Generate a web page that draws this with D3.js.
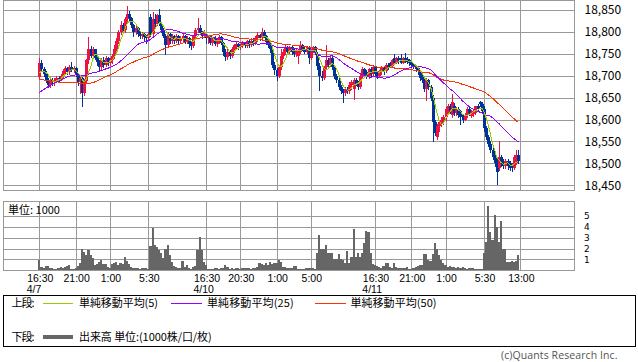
<!DOCTYPE html>
<html><head><meta charset="utf-8">
<script src="https://cdn.jsdelivr.net/npm/d3@7"></script>
<style>
body{margin:0;background:#fff;}
svg{display:block;font-family:"Noto Sans CJK JP","Noto Sans",sans-serif;}
</style></head><body>
<svg id="c" width="638" height="362"></svg>
<script>
// ---- data (15-minute bars, 4/7 night session to 4/12 13:00) ----
const openP = [
18698,18730,18715,18705,18690,18680,18690,18685,18690,18695,18692,18700,18710,18718,18708,18720,18712,18718,18702,18685,
18695,18660,18688,18735,18762,18745,18760,18740,18732,18720,18735,18725,18740,18730,18735,18745,18762,18780,18800,18815,
18805,18830,18842,18832,18815,18800,18810,18795,18790,18795,18788,18785,
18835,18795,18830,18818,18838,18818,18805,18790,18770,18795,18780,18790,18780,18790,18780,18785,18790,18778,18785,18772,
18768,18790,18805,18810,18798,18790,
18790,18785,18790,18775,18785,18772,18780,18788,18775,18755,18742,18755,18745,18760,18770,18772,18765,18768,18775,18768,
18780,18770,18780,18775,18785,18792,18785,18800,18790,18778,18770,18760,18725,18712,18700,18720,18745,18755,18765,18755,
18765,18755,18750,18745,18755,18770,18762,18755,18765,18740,18760,18765,
18750,18722,18700,18695,18720,18735,18725,18740,18720,18700,18690,18675,18665,18660,18670,18665,18680,18670,18690,18682,
18675,18700,18715,18708,18700,18715,
18705,18720,18705,18700,18710,18720,18710,18725,18728,18722,18740,18730,18740,18740,18730,18740,18738,18735,18728,18725,
18722,18718,18710,18700,18690,18670,18690,18675,18650,18595,18560,18585,18590,18595,18605,18615,18630,18610,18630,18615,
18625,18620,18610,18600,18610,18625,18608,18612,18615,18630,18640,18635,
18625,18580,18560,18545,18530,18520,18505,18490,18515,18505,18495,18505,18500,18495,18490,18500,18520
];
const highP = [
18740,18735,18720,18710,18695,18695,18695,18695,18700,18700,18705,18715,18722,18720,18725,18732,18722,18720,18705,18700,
18698,18692,18738,18788,18768,18765,18762,18745,18736,18740,18742,18745,18742,18740,18750,18770,18785,18805,18825,18820,
18835,18858,18848,18835,18818,18815,18812,18800,18800,18798,18792,18800,
18842,18845,18840,18842,18852,18822,18810,18795,18800,18798,18795,18792,18795,18792,18790,18795,18792,18790,18788,18778,
18792,18808,18832,18815,18802,18805,
18795,18792,18792,18788,18790,18785,18792,18790,18778,18760,18760,18758,18765,18772,18778,18775,18772,18780,18778,18782,
18782,18785,18785,18790,18800,18795,18810,18805,18792,18782,18775,18765,18732,18718,18725,18760,18762,18772,18768,18768,
18768,18760,18762,18760,18780,18772,18768,18768,18768,18762,18768,18768,
18755,18728,18710,18722,18771,18740,18745,18742,18725,18705,18695,18680,18670,18675,18675,18685,18690,18695,18695,18688,
18705,18720,18718,18712,18718,18720,
18725,18722,18710,18712,18722,18722,18728,18728,18732,18738,18750,18742,18745,18750,18742,18752,18742,18738,18732,18728,
18725,18722,18712,18702,18695,18695,18692,18678,18655,18600,18590,18600,18605,18610,18628,18635,18635,18658,18638,18628,
18628,18622,18612,18615,18628,18628,18622,18625,18632,18635,18642,18640,
18630,18585,18565,18552,18535,18525,18510,18550,18520,18510,18510,18510,18505,18500,18520,18530,18530
];
const lowP = [
18695,18710,18700,18685,18675,18675,18680,18678,18685,18688,18690,18695,18705,18705,18705,18710,18708,18700,18680,18660,
18630,18655,18685,18730,18742,18740,18738,18725,18710,18715,18720,18722,18725,18725,18730,18740,18755,18775,18795,18800,
18800,18825,18828,18812,18790,18795,18790,18785,18785,18780,18775,18782,
18790,18792,18812,18815,18815,18800,18788,18750,18765,18775,18775,18775,18778,18775,18776,18780,18775,18775,18765,18762,
18765,18785,18800,18795,18785,18788,
18775,18775,18772,18770,18770,18768,18775,18772,18748,18735,18738,18740,18742,18755,18762,18762,18760,18765,18765,18765,
18765,18768,18770,18772,18780,18782,18782,18788,18772,18765,18755,18720,18705,18690,18698,18715,18740,18750,18750,18752,
18750,18745,18745,18730,18752,18758,18752,18752,18730,18738,18755,18750,
18715,18668,18690,18692,18715,18720,18722,18715,18695,18685,18670,18660,18640,18655,18660,18660,18670,18648,18678,18670,
18672,18698,18702,18695,18695,18700,
18700,18700,18695,18698,18705,18705,18708,18715,18720,18720,18728,18728,18730,18728,18728,18732,18728,18725,18720,18718,
18710,18705,18690,18685,18665,18645,18670,18645,18551,18565,18555,18575,18585,18590,18600,18612,18615,18605,18610,18610,
18605,18590,18595,18598,18605,18610,18605,18608,18612,18620,18630,18615,
18575,18555,18540,18525,18510,18495,18452,18485,18495,18490,18490,18488,18485,18482,18488,18498,18500
];
const closeP = [
18730,18715,18705,18690,18680,18690,18685,18690,18695,18692,18700,18710,18718,18708,18720,18712,18718,18702,18685,18695,
18660,18688,18735,18762,18745,18760,18740,18732,18720,18735,18725,18740,18730,18735,18745,18762,18780,18800,18815,18805,
18830,18842,18832,18815,18800,18810,18795,18790,18795,18788,18785,18795,
18795,18830,18818,18838,18818,18805,18790,18770,18795,18780,18790,18780,18790,18780,18785,18790,18778,18785,18772,18768,
18790,18805,18810,18798,18790,18800,
18785,18790,18775,18785,18772,18780,18788,18775,18755,18742,18755,18745,18760,18770,18772,18765,18768,18775,18768,18780,
18770,18780,18775,18785,18792,18785,18800,18790,18778,18770,18760,18725,18712,18700,18720,18745,18755,18765,18755,18765,
18755,18750,18758,18755,18770,18762,18755,18765,18740,18760,18765,18755,
18722,18700,18695,18720,18735,18725,18740,18720,18700,18690,18675,18665,18660,18670,18665,18680,18685,18690,18682,18675,
18700,18715,18705,18700,18715,18705,
18720,18705,18700,18710,18720,18710,18725,18720,18722,18735,18730,18740,18735,18730,18740,18735,18732,18728,18725,18722,
18715,18710,18695,18690,18670,18690,18675,18650,18595,18570,18585,18595,18600,18605,18625,18630,18620,18640,18615,18625,
18610,18605,18600,18610,18625,18615,18618,18620,18630,18625,18635,18620,
18580,18560,18545,18530,18515,18500,18480,18515,18500,18495,18505,18495,18490,18490,18515,18520,18505
];
// volume in thousands
const volume = [
0.95,0.34,0.18,0.4,0.4,0.25,0.18,0.1,0.15,0.2,0.28,0.18,0.34,0.43,0.5,0.1,0.15,0.18,0.4,0.64,
2.0,1.7,1.4,1.9,1.4,1.1,0.5,0.55,0.8,0.95,0.58,0.55,0.34,0.25,0.58,0.64,0.8,0.5,0.64,0.58,
1.25,0.86,0.55,0.34,0.25,0.18,0.25,0.12,0.18,0.25,0.18,0.15,
2.2,3.85,2.3,2.1,1.9,1.55,1.1,2.0,2.3,1.4,0.8,0.35,0.28,0.18,0.18,0.86,0.34,0.5,0.18,0.12,
0.34,0.4,1.85,3.1,1.85,0.73,
0.5,0.12,0.12,0.12,0.18,0.18,0.12,0.18,0.18,0.5,0.34,0.12,0.18,0.12,0.25,0.18,0.12,0.18,0.25,0.18,
0.25,0.12,0.18,0.18,0.34,0.64,0.58,0.5,0.7,0.5,0.8,0.58,0.64,0.7,0.95,0.8,0.34,0.34,0.18,0.18,
0.18,0.43,0.43,0.12,0.12,0.12,0.12,0.25,0.18,0.18,0.18,0.12,
1.6,3.24,2.0,2.0,2.33,1.55,1.6,1.55,1.0,1.0,1.5,1.0,0.95,0.64,1.77,0.64,1.25,3.76,1.2,1.6,
1.2,1.6,2.5,3.6,3.5,1.55,
0.58,0.5,0.4,0.28,0.18,0.4,0.64,0.64,0.34,0.2,0.7,0.34,0.2,0.25,0.2,0.2,0.34,0.12,0.12,0.25,
0.3,0.4,0.45,0.5,1.5,1.5,0.95,0.9,1.5,2.5,1.95,1.4,0.95,0.64,0.5,0.34,0.4,0.34,0.34,0.25,
0.34,0.25,0.28,0.18,0.12,0.18,0.18,0.18,0.12,0.12,0.1,0.12,
1.55,2.6,5.9,3.55,2.8,5.1,4.0,2.6,4.5,2.0,2.0,0.8,0.8,0.85,0.8,0.85,1.4
];
// closes of the 49 bars before the first shown bar (needed by the moving averages)
const priorClose = [
18725,18730,18720,18715,18720,18730,18735,18725,18720,18715,18710,18720,18725,18730,18720,18715,18710,18720,18725,18715,
18710,18720,18730,18715,18710,
18640,18620,18600,18610,18625,18615,18630,18640,18625,18635,18645,18650,
18665,18675,18680,18690,18685,18695,18700,18690,18695,18705,18700,18700
];
const timeTickIdx = [0,17,33,51,78,94,111,127,157,174,190,208,225];
const timeTickLabels = ["16:30","21:00","1:00","5:30","16:30","20:30","1:00","5:00","16:30","21:00","1:00","5:30","13:00"];
const dateTickIdx = [0,78,157];
const dateLabels = ["4/7","4/10","4/11"];
const priceTicks = [18450,18500,18550,18600,18650,18700,18750,18800,18850];
const volTicks = [1,2,3,4,5];
const maPeriods = [50,25,5];
const maColors = ["#ff3300","#9900ff","#99cc00"];
const legendMA = ["単純移動平均(5)","単純移動平均(25)","単純移動平均(50)"];

// ---- drawing ----
const svg = d3.select("#c");
const n = closeP.length;
const L = 3.5, R = 574.5;
const mainTop = 0.5, mainBot = 190.5, volTop = 201.5, volBot = 270.5;
const x = d3.scaleLinear().domain([0, 225]).range([39.3, 520.35]);
const y = d3.scaleLinear().domain([18450, 18850]).range([185.3, 10]);
const yv = d3.scaleLinear().domain([0, 5]).range([270.3, 216]);
const step = x(1) - x(0);
const grid = "#999999";
const px = v => Math.round(v) + 0.5;
const latin = '"Liberation Sans",Arial,sans-serif';

// grid lines
const g = svg.append("g").attr("shape-rendering","crispEdges");
g.selectAll(".hg").data(priceTicks).join("line")
  .attr("x1",L).attr("x2",R).attr("y1",d=>px(y(d))).attr("y2",d=>px(y(d)))
  .attr("stroke",grid);
g.selectAll(".vg").data(volTicks).join("line")
  .attr("x1",L).attr("x2",R).attr("y1",d=>px(yv(d))).attr("y2",d=>px(yv(d)))
  .attr("stroke",grid);
[[mainTop,mainBot],[volTop,volBot]].forEach(([t,b])=>{
  g.append("g").selectAll("line").data(timeTickIdx).join("line")
   .attr("x1",d=>px(x(d))).attr("x2",d=>px(x(d))).attr("y1",t).attr("y2",b).attr("stroke",grid);
  g.append("rect").attr("x",L).attr("y",t).attr("width",R-L).attr("height",b-t)
   .attr("fill","none").attr("stroke",grid);
});

// volume bars
svg.append("g").attr("shape-rendering","crispEdges").selectAll("rect").data(volume).join("rect")
  .attr("x",(d,i)=>Math.round(x(i)-step/2))
  .attr("width",(d,i)=>Math.round(x(i)+step/2)-Math.round(x(i)-step/2))
  .attr("y",d=>Math.round(yv(d)))
  .attr("height",d=>Math.max(0,Math.round(yv(0))-Math.round(yv(d))))
  .attr("fill","#666666");

// candles
const up = "#ee1144", down = "#003399";
const cg = svg.append("g").attr("shape-rendering","crispEdges");
const idx = d3.range(n);
cg.selectAll(".w").data(idx).join("rect")
  .attr("x",i=>Math.round(x(i)))
  .attr("width",1)
  .attr("y",i=>Math.round(y(highP[i])))
  .attr("height",i=>Math.round(y(lowP[i]))-Math.round(y(highP[i]))+1)
  .attr("fill",i=>closeP[i]>=openP[i]?up:down);
cg.selectAll(".b").data(idx).join("rect")
  .attr("x",i=>Math.round(x(i))-1)
  .attr("width",3)
  .attr("y",i=>Math.round(y(Math.max(openP[i],closeP[i]))))
  .attr("height",i=>Math.max(1,Math.round(y(Math.min(openP[i],closeP[i])))-Math.round(y(Math.max(openP[i],closeP[i])))))
  .attr("fill",i=>closeP[i]>=openP[i]?up:down);

// moving averages
const all = priorClose.concat(closeP);
const off = priorClose.length;
maPeriods.forEach((p,k)=>{
  const vals = idx.map(i=>d3.mean(all.slice(i+off-p+1, i+off+1)));
  svg.append("path").datum(vals)
    .attr("d", d3.line().x((d,i)=>x(i)).y(d=>y(d)))
    .attr("fill","none").attr("stroke",maColors[k]).attr("stroke-width",1)
    .attr("shape-rendering","crispEdges");
});

// right axes
const ax = svg.append("g").attr("transform",`translate(${R+10},0)`)
  .call(d3.axisRight(y).tickValues(priceTicks).tickSize(0).tickPadding(0).tickFormat(d3.format(",")));
ax.select(".domain").remove();
ax.selectAll("text").attr("font-size",12).attr("font-family",'"Noto Sans CJK JP",sans-serif').attr("fill","#000");
const avx = svg.append("g").attr("transform",`translate(${R+9.5},0)`)
  .call(d3.axisRight(yv).tickValues(volTicks).tickSize(0).tickPadding(0).tickFormat(d3.format("d")));
avx.select(".domain").remove();
avx.selectAll("text").attr("font-size",9).attr("font-family",'"DejaVu Sans",sans-serif').attr("fill","#000");

// bottom time axis
const bx = svg.append("g").attr("transform",`translate(0.5,0)`)
  .call(d3.axisBottom(x).tickValues(timeTickIdx).tickSize(0).tickPadding(0).tickFormat((d,i)=>timeTickLabels[i]));
bx.select(".domain").remove();
bx.selectAll("text").attr("y",281.5).attr("dy",null)
  .attr("font-size",10.5).attr("font-family",latin).attr("fill","#000");
const tnodes = bx.selectAll("text").nodes();
dateTickIdx.forEach((d,k)=>{
  const j = timeTickIdx.indexOf(d);
  const w = tnodes[j].getComputedTextLength();
  svg.append("text").attr("x",x(d)-w/2+0.5).attr("y",292.6)
    .attr("font-size",10.5).attr("font-family",latin).attr("fill","#000").text(dateLabels[k]);
});

// unit label
svg.append("text").attr("x",8).attr("y",210).attr("dy","0.35em").attr("font-size",11).text("単位: 1000");

// legend
svg.append("rect").attr("x",3.5).attr("y",295.5).attr("width",632).attr("height",50.5)
  .attr("fill","none").attr("stroke","#000").attr("shape-rendering","crispEdges");
const lg = svg.append("g").attr("font-size",11).attr("fill","#000");
lg.append("text").attr("x",11.5).attr("y",307.4).attr("textLength",23).text("上段:");
lg.append("text").attr("x",11.5).attr("y",341).attr("textLength",23).text("下段:");
const legX = [[43,73,79,79],[171,202,207,86.7],[315,346,350.5,86]];
const legCol = ["#99cc00","#9900ff","#ff3300"];
legX.forEach((p,k)=>{
  lg.append("line").attr("x1",p[0]).attr("x2",p[1]).attr("y1",303.5).attr("y2",303.5)
    .attr("stroke",legCol[k]).attr("shape-rendering","crispEdges");
  lg.append("text").attr("x",p[2]).attr("y",307.4).attr("textLength",p[3]).text(legendMA[k]);
});
lg.append("line").attr("x1",43).attr("x2",73).attr("y1",337).attr("y2",337)
  .attr("stroke","#666666").attr("stroke-width",4).attr("shape-rendering","crispEdges");
lg.append("text").attr("x",79).attr("y",341).attr("textLength",132.7).text("出来高 単位:(1000株/口/枚)");

// copyright
svg.append("text").attr("x",617.5).attr("y",358.5).attr("text-anchor","end")
  .attr("font-size",10.5).attr("font-family","'Open Sans',sans-serif").attr("fill","#555")
  .attr("textLength",116.5)
  .text("(c)Quants Research Inc.");
</script>
</body></html>
